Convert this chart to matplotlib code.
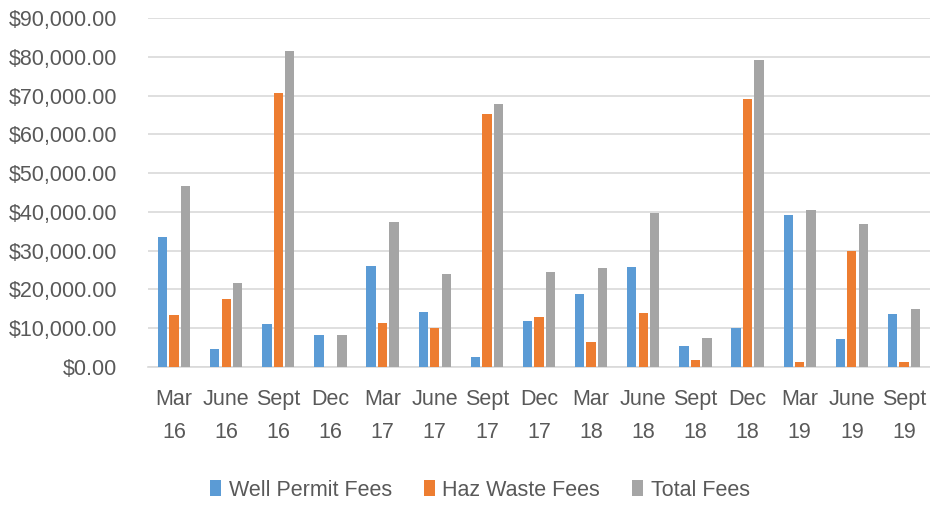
import numpy as np
import matplotlib.pyplot as plt
from matplotlib.ticker import FuncFormatter

plt.rcParams['font.family'] = ['Liberation Sans', 'DejaVu Sans']

quarters = ['Mar\n16', 'June\n16', 'Sept\n16', 'Dec\n16',
            'Mar\n17', 'June\n17', 'Sept\n17', 'Dec\n17',
            'Mar\n18', 'June\n18', 'Sept\n18', 'Dec\n18',
            'Mar\n19', 'June\n19', 'Sept\n19']
well_permit = [33400, 4700, 11100, 8300, 26000, 14200, 2600, 11800,
               18800, 25900, 5400, 10000, 39100, 7200, 13600]
haz_waste = [13500, 17500, 70600, 0, 11400, 10000, 65200, 12900,
             6500, 13900, 1900, 69100, 1200, 29900, 1200]
total = [46800, 21600, 81500, 8300, 37300, 24100, 67800, 24400,
         25600, 39800, 7500, 79100, 40400, 36900, 15000]

names = ['Well Permit Fees', 'Haz Waste Fees', 'Total Fees']
colors = ['#5B9BD5', '#ED7D31', '#A5A5A5']
txt = '#595959'


def main():
    fig = plt.figure(figsize=(9.3, 5.05), dpi=100)
    ax = fig.add_axes([148/930, 1-367/505, 782/930, 349/505])

    x = np.arange(len(quarters))
    w = 0.18
    step = 0.22
    for i, (vals, name, c) in enumerate(zip([well_permit, haz_waste, total], names, colors)):
        ax.bar(x + (i-1)*step, vals, width=w, color=c, label=name, zorder=3)

    ax.set_xlim(-0.5, len(quarters)-0.5)
    ax.set_ylim(0, 90000)
    ax.set_yticks(np.arange(0, 90001, 10000))
    ax.yaxis.set_major_formatter(FuncFormatter(lambda v, p: '${:,.2f}'.format(v)))
    ax.set_xticks(x)
    ax.set_xticklabels(quarters, linespacing=1.75)
    ax.tick_params(axis='both', length=0, labelsize=15.5, colors=txt)
    ax.tick_params(axis='x', pad=16)
    ax.tick_params(axis='y', pad=22)
    ax.grid(axis='y', color='#D9D9D9', linewidth=1.2, zorder=0)
    for s in ['top', 'right', 'left']:
        ax.spines[s].set_visible(False)
    ax.spines['bottom'].set_color('#D9D9D9')
    ax.spines['bottom'].set_linewidth(1.2)

    leg = fig.legend(loc='center', bbox_to_anchor=(480/930, 1-490/505), ncol=3,
                     frameon=False, fontsize=15.5, handlelength=0.5, handleheight=0.8,
                     handletextpad=0.35, columnspacing=1.5)
    for t in leg.get_texts():
        t.set_color(txt)

    fig.savefig('out.png', dpi=100)


main()
